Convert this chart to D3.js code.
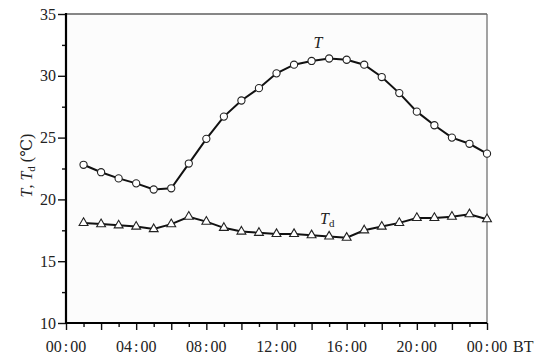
<!DOCTYPE html>
<html>
<head>
<meta charset="utf-8">
<script src="https://cdn.jsdelivr.net/npm/d3@7"></script>
<style>
  body { margin: 0; background: #fff; }
  svg text { font-family: "Liberation Serif", "DejaVu Serif", serif !important; fill: #222; }
</style>
</head>
<body>
<script>
// hours after 00:00 BT
const hours = d3.range(1, 25);
const tempT = [22.8, 22.2, 21.7, 21.3, 20.8, 20.9, 22.9, 24.9, 26.7, 28.0, 29.0, 30.2,
               30.9, 31.2, 31.4, 31.3, 30.9, 29.9, 28.6, 27.1, 26.0, 25.0, 24.5, 23.7];
const tempTd = [18.1, 18.0, 17.9, 17.8, 17.6, 18.0, 18.6, 18.2, 17.7, 17.4, 17.3, 17.2,
                17.2, 17.1, 17.0, 16.9, 17.5, 17.8, 18.1, 18.5, 18.5, 18.6, 18.8, 18.4];
const xTickLabels = ["00:00", "04:00", "08:00", "12:00", "16:00", "20:00", "00:00"];
const yTicks = [10, 15, 20, 25, 30, 35];

const width = 543, height = 364;
const margin = { top: 14, right: 56, bottom: 41, left: 66 };

const svg = d3.select("body").append("svg")
  .attr("width", width)
  .attr("height", height);

const x = d3.scaleLinear().domain([0, 24]).range([margin.left, width - margin.right]);
const y = d3.scaleLinear().domain([10, 35]).range([height - margin.bottom, margin.top]);

// plot background + frame (top / right thin)
svg.append("rect")
  .attr("x", x(0)).attr("y", y(35))
  .attr("width", x(24) - x(0)).attr("height", y(10) - y(35))
  .style("fill", "#fcfcfc");
svg.append("line")
  .attr("x1", x(0)).attr("x2", x(24)).attr("y1", y(35)).attr("y2", y(35))
  .style("stroke", "#111").style("stroke-width", 1.2);
svg.append("line")
  .attr("x1", x(24)).attr("x2", x(24)).attr("y1", y(35)).attr("y2", y(10))
  .style("stroke", "#666").style("stroke-width", 1.2);

// y axis: major + minor ticks
const yMinor = svg.append("g")
  .attr("transform", `translate(${x(0)},0)`)
  .call(d3.axisLeft(y).tickValues(d3.range(12.5, 35, 5)).tickSize(4).tickFormat(""));
const yAxis = svg.append("g")
  .attr("transform", `translate(${x(0)},0)`)
  .call(d3.axisLeft(y).tickValues(yTicks).tickSize(8).tickPadding(2));

// x axis: hourly ticks, longer every 2 h, labels every 4 h
const xMinor = svg.append("g")
  .attr("transform", `translate(0,${y(10)})`)
  .call(d3.axisBottom(x).tickValues(d3.range(1, 24, 2)).tickSize(4).tickFormat(""));
const xAxis = svg.append("g")
  .attr("transform", `translate(0,${y(10)})`)
  .call(d3.axisBottom(x).tickValues(d3.range(0, 25, 2)).tickSize(7).tickFormat(""));

[yMinor, yAxis, xMinor, xAxis].forEach((g) => {
  g.attr("font-family", null);
  g.select(".domain").remove();
  g.selectAll(".tick line").style("stroke", "#111").style("stroke-width", 1.4);
});
yAxis.selectAll(".tick text")
  .style("font-size", "16px")
  .style("fill", "#222");

// thick left & bottom axis lines
svg.append("line")
  .attr("x1", x(0)).attr("x2", x(0)).attr("y1", y(35) - 1).attr("y2", y(10) + 1)
  .style("stroke", "#000").style("stroke-width", 2.2);
svg.append("line")
  .attr("x1", x(0) - 1).attr("x2", x(24)).attr("y1", y(10)).attr("y2", y(10))
  .style("stroke", "#000").style("stroke-width", 2.2);

// x tick labels
const xl = svg.append("g").selectAll("text")
  .data(xTickLabels).enter()
  .append("text")
    .attr("x", (d, i) => x(i * 4))
    .attr("y", y(10) + 29)
    .style("font-size", "16px")
    .style("text-anchor", "middle");
xl.append("tspan").text((d) => d.split(":")[0]);
xl.append("tspan").attr("dx", 2).text(":");
xl.append("tspan").attr("dx", 2).text((d) => d.split(":")[1]);

svg.append("text")
  .attr("x", x(24) + 26)
  .attr("y", y(10) + 29)
  .style("font-size", "16px")
  .text("BT");

// y axis title
const yt = svg.append("text")
  .attr("transform", `translate(32,${(y(35) + y(10)) / 2 - 3})rotate(-90)`)
  .style("font-size", "16px")
  .style("text-anchor", "middle");
yt.append("tspan").style("font-style", "italic").text("T");
yt.append("tspan").text(", ");
yt.append("tspan").style("font-style", "italic").text("T");
yt.append("tspan").attr("dy", 3).style("font-size", "11px").text("d");
yt.append("tspan").attr("dy", -3).text(" (℃)");

// series
const line = d3.line()
  .x((d) => x(d[0]))
  .y((d) => y(d[1]));

const seriesT = hours.map((h, i) => [h, tempT[i]]);
const seriesTd = hours.map((h, i) => [h, tempTd[i]]);

[seriesT, seriesTd].forEach((s) => {
  svg.append("path")
    .datum(s)
    .attr("d", line)
    .style("fill", "none")
    .style("stroke", "#111")
    .style("stroke-width", 2);
});

svg.append("g").selectAll("circle")
  .data(seriesT).enter()
  .append("circle")
    .attr("cx", (d) => x(d[0]))
    .attr("cy", (d) => y(d[1]))
    .attr("r", 3.6)
    .style("fill", "#fff")
    .style("stroke", "#222")
    .style("stroke-width", 1.1);

const tri = d3.symbol().type(d3.symbolTriangle).size(34);
svg.append("g").selectAll("path")
  .data(seriesTd).enter()
  .append("path")
    .attr("d", tri)
    .attr("transform", (d) => `translate(${x(d[0])},${y(d[1])})`)
    .style("fill", "#fff")
    .style("stroke", "#222")
    .style("stroke-width", 1.1);

// series labels
svg.append("text")
  .attr("x", 318).attr("y", 48)
  .style("font-size", "16px")
  .style("font-style", "italic")
  .style("text-anchor", "middle")
  .text("T");

const tdl = svg.append("text")
  .attr("x", 320).attr("y", 224)
  .style("font-size", "16px");
tdl.append("tspan").style("font-style", "italic").text("T");
tdl.append("tspan").attr("dy", 3).style("font-size", "11px").text("d");
</script>
</body>
</html>
